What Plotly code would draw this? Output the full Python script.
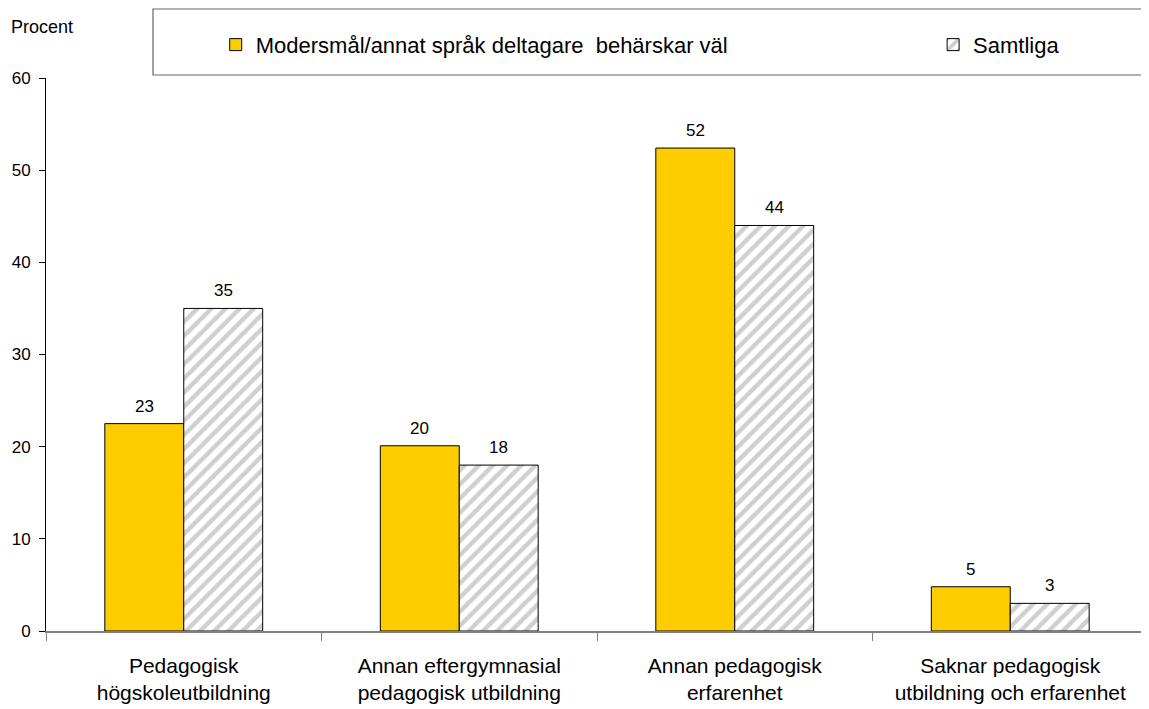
import plotly.graph_objects as go

categories = [
    "Pedagogisk<br>högskoleutbildning",
    "Annan eftergymnasial<br>pedagogisk utbildning",
    "Annan pedagogisk<br>erfarenhet",
    "Saknar pedagogisk<br>utbildning och erfarenhet",
]
series1_name = "Modersmål/annat språk deltagare  behärskar väl"
series1_values = [22.5, 20.1, 52.4, 4.8]
series1_labels = ["23", "20", "52", "5"]
series2_name = "Samtliga"
series2_values = [35.0, 18.0, 44.0, 3.0]
series2_labels = ["35", "18", "44", "3"]
y_ticks = [0, 10, 20, 30, 40, 50, 60]

FONT = "Liberation Sans, Arial, sans-serif"

# page has an 8px body margin; compensate so the plot lands where the reference has it
W, H = 1141, 701
ML, MR, MT, MB = 38, 1, 70, 78
BARGAP = 0.427
plot_w = W - ML - MR
bar_px = plot_w / len(categories) * (1 - BARGAP) / 2

fig = go.Figure()
fig.add_trace(go.Bar(
    x=categories, y=series1_values, name=series1_name,
    marker=dict(color="#FFCC00", line=dict(color="black", width=1)),
    legend="legend",
))
fig.add_trace(go.Bar(
    x=categories, y=series2_values, name=series2_name,
    marker=dict(
        color="white",
        line=dict(color="black", width=1),
        pattern=dict(shape="/", fgcolor="#A0A0A0", bgcolor="white", size=10, solidity=0.45),
    ),
    legend="legend2",
))

annotations = []
for cat, val, lab in zip(categories, series1_values, series1_labels):
    annotations.append(dict(x=cat, y=val, text=lab, xref="x", yref="y", showarrow=False,
                            xshift=-bar_px / 2, yshift=6, yanchor="bottom",
                            font=dict(size=17, family=FONT, color="black")))
for cat, val, lab in zip(categories, series2_values, series2_labels):
    annotations.append(dict(x=cat, y=val, text=lab, xref="x", yref="y", showarrow=False,
                            xshift=bar_px / 2, yshift=6, yanchor="bottom",
                            font=dict(size=17, family=FONT, color="black")))
annotations.append(dict(
    text="Procent", xref="paper", yref="paper",
    x=-0.034, y=1.092, xanchor="left", yanchor="middle",
    showarrow=False, font=dict(size=18, family=FONT, color="black"),
))

legend_common = dict(
    orientation="h", yanchor="middle", y=1.06,
    font=dict(size=22, family=FONT, color="black"),
    bgcolor="rgba(0,0,0,0)", borderwidth=0,
)

fig.update_layout(
    width=W, height=H,
    margin=dict(l=ML, r=MR, t=MT, b=MB),
    paper_bgcolor="white", plot_bgcolor="white",
    barmode="group", bargap=BARGAP, bargroupgap=0,
    font=dict(family=FONT, color="black", size=16),
    showlegend=True,
    legend=dict(x=0.154, xanchor="left", **legend_common),
    legend2=dict(x=0.805, xanchor="left", **legend_common),
    xaxis=dict(
        type="category", range=[-0.5, 3.5],
        showline=True, linecolor="#808080", linewidth=1.5,
        ticks="outside", tickson="boundaries", ticklen=8, tickcolor="#808080",
        tickfont=dict(size=21, family=FONT, color="black"),
        ticklabelstandoff=15,
        showgrid=False, zeroline=False,
    ),
    yaxis=dict(
        range=[0, 60], tickvals=y_ticks,
        showline=True, linecolor="black", linewidth=1,
        ticks="outside", ticklen=6, tickcolor="black",
        tickfont=dict(size=17, family=FONT, color="black"),
        ticklabelstandoff=5,
        showgrid=False, zeroline=False,
    ),
    shapes=[dict(
        type="rect", xref="paper", yref="paper",
        x0=0.0971, x1=1.0, y0=1.0054, y1=1.1248,
        line=dict(color="#666666", width=1.2), fillcolor="rgba(0,0,0,0)",
    )],
    annotations=annotations,
)

fig.write_html("out.html")
